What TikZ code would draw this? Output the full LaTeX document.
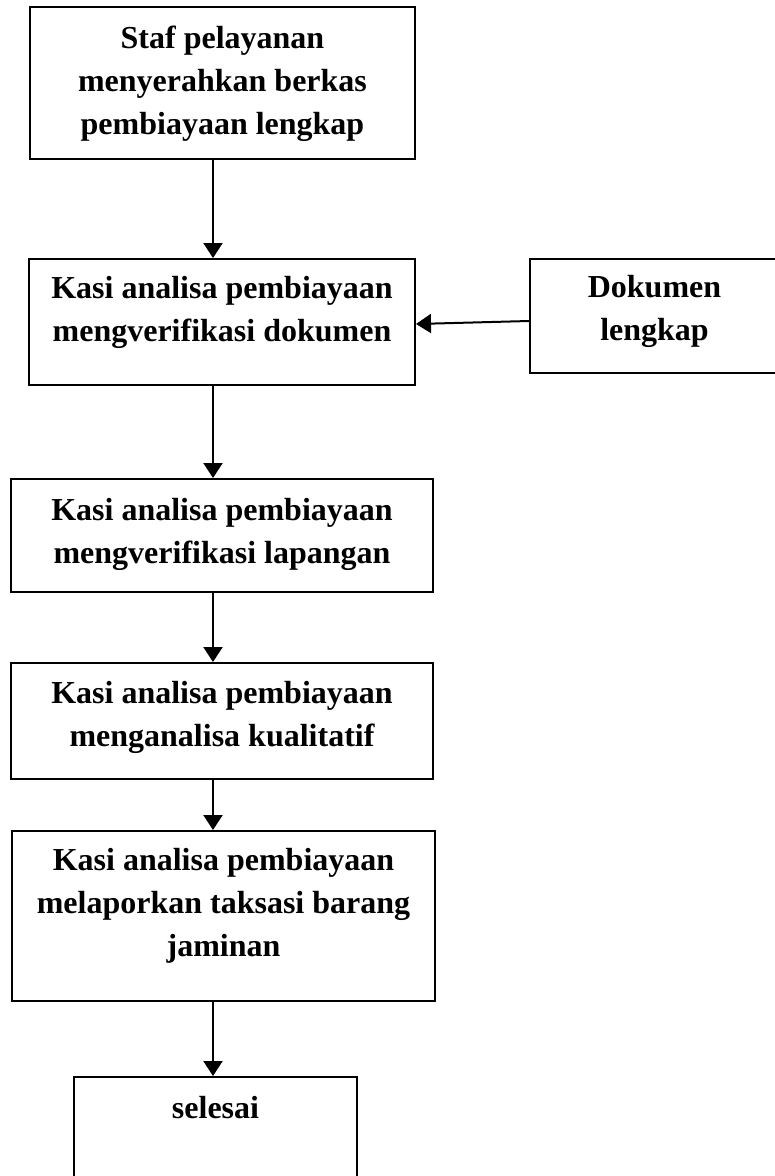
\documentclass[tikz,border=0pt]{standalone}
\usepackage{fontspec}
\setmainfont{Liberation Serif}
\usetikzlibrary{arrows.meta,calc}
\tikzset{
  boxnode/.style={draw=black, line width=2pt, rectangle, inner sep=0pt, fill=none},
  txt/.style={align=center, inner sep=0pt, font=\fontsize{32pt}{43pt}\selectfont\bfseries},
  arr/.style={draw=black, line width=2pt, -{Triangle[width=19pt,length=15pt]}}
}
\begin{document}
\begin{tikzpicture}[x=1pt,y=-1pt]
\useasboundingbox (0,0) rectangle (775,1176);
\clip (0,0) rectangle (775,1176);
% boxes
\node[boxnode, minimum width=385pt, minimum height=152pt] (b1) at (222.5,83) {};
\node[boxnode, minimum width=386pt, minimum height=126pt] (b2) at (222,322) {};
\node[boxnode, minimum width=249pt, minimum height=114pt] (dok) at (654.5,316) {};
\node[boxnode, minimum width=422pt, minimum height=113pt] (b4) at (222,535.5) {};
\node[boxnode, minimum width=422pt, minimum height=116pt] (b5) at (222,721) {};
\node[boxnode, minimum width=423pt, minimum height=170pt] (b6) at (223.5,916) {};
\node[boxnode, minimum width=283pt, minimum height=105pt] (b7) at (215.5,1129.5) {};
% texts
\node[txt] (t1) at (222.5,84.2) {Staf pelayanan\\menyerahkan berkas\\pembiayaan lengkap};
\node[txt] (t2) at (222,312.7) {Kasi analisa pembiayaan\\mengverifikasi dokumen};
\node[txt] (tdok) at (654.5,311.7) {Dokumen\\lengkap};
\node[txt] (t4) at (222,534.2) {Kasi analisa pembiayaan\\mengverifikasi lapangan};
\node[txt] (t5) at (222,717.7) {Kasi analisa pembiayaan\\menganalisa kualitatif};
\node[txt] (t6) at (223.5,905.7) {Kasi analisa pembiayaan\\melaporkan taksasi barang\\jaminan};
\node[txt] (t7) at (215.5,1108) {selesai};
% connectors
\coordinate (ax) at (213,0);
\draw[arr] (b1.south -| ax) -- (b2.north -| ax);
\draw[arr] (b2.south -| ax) -- (b4.north -| ax);
\draw[arr] (b4.south -| ax) -- (b5.north -| ax);
\draw[arr] (b5.south -| ax) -- (b6.north -| ax);
\draw[arr] (b6.south -| ax) -- (b7.north -| ax);
\draw[arr] ($(dok.west)+(0,5)$) -- ($(b2.east)+(0,2)$);
\end{tikzpicture}
\end{document}
